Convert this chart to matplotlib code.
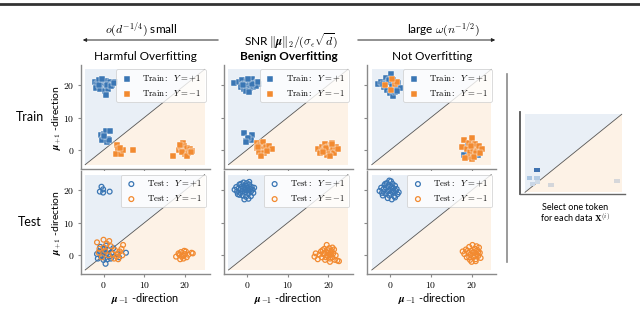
import matplotlib
matplotlib.use("Agg")
import matplotlib.pyplot as plt
from matplotlib.path import Path
from matplotlib.ticker import FuncFormatter

plt.rcParams['font.family'] = ['Lato', 'DejaVu Sans']
plt.rcParams['mathtext.fontset'] = 'cm'

# ---- data: (x, y) in mu_{-1} / mu_{+1} directions ----
harm_train_pos = [(-2.0, 21.0), (-1.5, 20.3), (-1.0, 21.5), (-0.5, 19.8), (0.0, 20.6), (0.5, 21.2),
                  (1.0, 19.5), (1.5, 20.8), (2.2, 20.1), (2.8, 21.0), (-1.8, 19.2), (-0.8, 18.7),
                  (0.3, 18.2), (1.2, 18.8), (0.5, 16.8), (-1.2, 20.0), (0.8, 20.0), (1.8, 19.6),
                  (-0.3, 21.8), (2.5, 20.5),
                  (-0.5, 4.5), (0.0, 5.0), (0.5, 6.0), (1.5, 5.8), (0.2, 3.8), (1.0, 3.5),
                  (-0.3, 3.0), (0.8, 2.6), (1.4, 3.2), (0.0, 4.2)]
harm_train_neg = [(3.3, 1.5), (3.5, 0.2), (3.1, -1.2), (4.2, -1.2), (4.8, 0.1), (7.2, 0.1), (4.0, 0.5),
                  (17.0, -1.8), (18.5, 0.0), (19.0, 0.8), (19.5, 2.2), (19.8, 1.2), (20.2, -0.2),
                  (20.5, 0.5), (20.0, -1.2), (20.8, -0.8), (21.2, 0.3), (21.8, -0.2), (19.3, -0.5),
                  (18.8, 1.5), (20.6, -1.8), (21.5, -0.5)]

benign_train_pos = [(-3.1, 20.5), (-1.8, 20.8), (-1.2, 21.6), (-0.6, 20.2), (0.0, 21.2), (0.6, 20.6),
                    (1.2, 21.8), (1.8, 20.4), (2.5, 21.0), (3.0, 20.2), (-1.5, 19.4), (-0.8, 18.8),
                    (0.2, 19.6), (0.9, 19.0), (1.6, 19.3), (2.2, 19.8), (-0.2, 18.2), (0.5, 18.0),
                    (1.3, 20.2), (-1.0, 20.0), (2.8, 20.8), (0.3, 22.0),
                    (-0.7, 5.1), (1.2, 4.6), (-0.1, 2.8), (1.1, 3.1), (0.4, 3.6), (-0.3, 2.4)]
benign_train_neg = [(2.4, 2.3), (3.2, 1.6), (4.0, 2.6), (2.6, 0.6), (3.6, 0.2), (4.6, 0.9), (5.4, 1.2),
                    (6.2, 0.4), (3.0, -0.6), (4.2, -0.8), (3.4, -1.9), (5.0, -0.2), (2.8, 1.0),
                    (17.4, 0.2), (18.0, -1.0), (18.4, 1.0), (19.0, 0.0), (19.2, 1.8), (19.6, -1.5),
                    (20.0, 0.8), (20.2, -0.4), (20.6, 1.4), (20.8, 2.2), (21.2, 0.2), (21.4, -1.0),
                    (21.8, 1.0), (22.4, 0.4), (19.4, 0.6), (20.4, -1.8), (18.8, -0.6), (21.0, 1.8)]

not_train_pos = [(-3.0, 20.2), (-2.2, 21.0), (-1.6, 19.4), (-1.0, 22.2), (-0.4, 20.8), (0.2, 23.4),
                 (0.8, 21.6), (1.4, 19.8), (2.0, 20.6), (2.5, 19.0), (-0.8, 18.4), (0.0, 17.4),
                 (0.6, 16.6), (1.2, 17.8), (-1.8, 20.4), (0.4, 19.6), (1.8, 18.2), (-0.2, 21.4),
                 (19.0, 1.5), (20.2, 1.0), (18.2, -1.5), (21.5, -1.5)]
not_train_neg = [(-1.2, 20.0), (0.2, 18.5), (1.2, 20.3), (1.8, 21.0), (0.4, 22.0),
                 (17.6, 1.0), (18.2, 3.0), (18.8, 0.2), (19.4, 2.2), (19.6, -0.6), (20.2, 3.6),
                 (20.4, 0.4), (20.8, 1.8), (21.2, -0.2), (21.8, 1.2), (22.6, 0.4), (19.0, -2.0),
                 (20.0, -2.8), (21.0, -1.0), (18.4, -2.4), (20.6, -2.0), (19.8, 1.2), (22.0, -0.8)]

harm_test_pos = [(-0.5, 21.1), (-0.1, 20.3), (-0.9, 19.6), (-0.1, 19.3), (1.5, 19.6),
                 (-1.6, 0.4), (-1.0, 1.2), (-0.6, -0.4), (-0.2, 0.8), (0.2, 2.0), (0.4, -0.8),
                 (0.8, 0.6), (1.2, 1.6), (1.6, -0.2), (2.0, 0.8), (-0.8, 2.6), (0.0, -1.4),
                 (1.0, -1.2), (2.4, 2.2), (-1.4, -1.0), (0.6, 3.0), (1.8, -1.0), (5.5, 0.8),
                 (0.5, -2.6), (3.4, 0.4), (3.8, -0.6), (-0.4, 0.0), (0.2, 1.0)]
harm_test_neg = [(-1.6, 4.0), (0.0, 4.8), (1.4, 4.4), (0.8, 3.6), (-1.0, 2.0), (0.4, 1.4), (1.8, 2.8),
                 (2.2, 0.4), (2.8, 1.6), (3.2, -0.4), (3.6, -1.2), (4.0, 1.2), (4.4, 2.0), (4.6, 0.0),
                 (1.2, 0.0), (-0.4, -0.6), (2.6, -1.0), (-1.2, 0.8), (3.6, 0.6), (0.0, 2.4), (4.8, 3.2),
                 (17.8, -0.4), (18.4, 0.6), (18.8, -1.2), (19.0, 1.0), (19.4, 0.0), (19.8, 1.4),
                 (19.6, -1.0), (20.0, 0.4), (20.4, -0.6), (20.2, 1.2), (20.8, 0.2), (19.2, -0.4),
                 (21.6, 0.8), (21.9, 0.6), (18.6, 0.2)]

benign_test_pos = [(-3.0, 20.2), (-2.6, 21.0), (-2.4, 19.6), (-2.0, 20.6), (-1.8, 21.8), (-1.6, 19.2),
                   (-1.4, 20.4), (-1.2, 21.2), (-1.0, 19.8), (-0.8, 22.4), (-0.6, 20.8), (-0.4, 19.4),
                   (-0.2, 21.4), (0.0, 20.0), (0.2, 20.8), (0.4, 19.0), (0.6, 21.8), (0.8, 20.4),
                   (1.0, 19.6), (1.2, 21.0), (1.4, 20.2), (1.6, 19.2), (1.8, 20.8), (-1.8, 18.6),
                   (-1.0, 18.4), (-0.2, 18.0), (0.4, 17.4), (-0.6, 17.2), (1.0, 18.2), (-2.2, 18.8),
                   (0.0, 22.2), (-1.4, 22.0), (0.6, 22.6), (-0.4, 20.2), (0.4, 20.0)]
benign_test_neg = [(16.6, -0.4), (16.9, 0.6), (17.4, -1.2), (17.8, 0.2), (18.2, 1.2), (18.4, -0.6),
                   (18.8, 0.4), (19.0, 2.0), (19.2, -1.4), (19.4, 1.0), (19.6, 3.2), (19.8, -0.2),
                   (20.0, 0.8), (20.2, 2.2), (20.4, -1.0), (20.6, 0.2), (20.8, 1.4), (21.0, -0.6),
                   (21.2, 0.6), (21.4, 1.8), (21.6, -1.4), (21.8, 0.0), (22.2, -1.6), (22.6, -1.8),
                   (19.4, -0.6), (20.2, 0.0), (19.0, 0.6), (20.6, 1.0), (18.6, 1.6), (21.0, 2.4),
                   (19.8, 1.6), (20.4, -2.0)]

not_test_pos = [(-2.6, 19.8), (-2.2, 20.8), (-2.0, 19.2), (-1.6, 20.4), (-1.4, 21.6), (-1.2, 19.0),
                (-1.0, 20.8), (-0.8, 22.2), (-0.6, 19.6), (-0.4, 21.2), (-0.2, 18.4), (0.0, 20.2),
                (0.2, 22.8), (0.4, 21.0), (0.6, 19.4), (0.8, 20.6), (1.0, 18.2), (1.2, 21.4),
                (1.4, 19.8), (1.6, 20.4), (1.8, 18.8), (2.1, 19.4), (-1.8, 18.4), (-0.6, 17.6),
                (0.4, 17.2), (1.2, 17.8), (-0.2, 23.0), (0.6, 22.0), (-1.2, 22.0), (0.0, 19.0),
                (-0.4, 20.0), (0.8, 19.8)]
not_test_neg = [(17.8, 1.2), (18.2, 0.4), (18.6, 1.8), (18.8, -0.6), (19.2, 0.8), (19.4, 2.6),
                (19.6, -1.4), (19.8, 0.2), (20.0, 1.4), (20.2, 3.2), (20.4, -0.4), (20.6, 0.8),
                (20.8, 2.0), (21.0, -1.2), (21.2, 0.4), (21.4, 1.6), (21.6, -0.2), (21.8, 2.4),
                (22.0, 0.8), (22.2, -0.8), (20.0, -2.0), (21.0, -1.8), (19.4, -0.6), (20.4, 1.0),
                (21.2, 2.8), (19.0, 1.4), (20.8, -0.2), (21.6, 1.0)]

col_titles = ["Harmful Overfitting", "Benign Overfitting", "Not Overfitting"]
row_names = ["Train", "Test"]
ticks = [0, 10, 20]

# token sketch on the right (unit square coordinates)
token_x = [0.124, 0.044, 0.121, 0.075, 0.131, 0.266, 0.954]
token_y = [0.286, 0.179, 0.187, 0.103, 0.128, 0.094, 0.145]
token_c = ['#3f72b0', '#a9c5e2', '#b3cbe4', '#c9d6e6', '#cfdae6', '#d4d6da', '#d6d7da']

panels = [[(harm_train_pos, harm_train_neg), (benign_train_pos, benign_train_neg), (not_train_pos, not_train_neg)],
          [(harm_test_pos, harm_test_neg), (benign_test_pos, benign_test_neg), (not_test_pos, not_test_neg)]]

BLUE = '#3a76b4'
ORANGE = '#f28a30'
W, H = 640, 316
fig = plt.figure(figsize=(6.4, 3.16), dpi=100)


def fx(x):
    return x / W


def fy(y):
    return 1 - y / H


def add_px_axes(left, top, w, h):
    return fig.add_axes([left / W, 1 - (top + h) / H, w / W, h / H])


col_left = [80.7, 224.0, 367.3]
row_top = [65.5, 170.8]
aw, ah = 128.8, 103.4
lo, hi = -4.5, 24.8
fmt = FuncFormatter(lambda v, p: f"${int(v)}$")

for r in range(2):
    for c in range(3):
        ax = add_px_axes(col_left[c], row_top[r], aw, ah)
        ax.fill([lo, lo, hi], [lo, hi, hi], color='#e9eff6', lw=0, zorder=0)
        ax.fill([lo, hi, hi], [lo, lo, hi], color='#fdf2e6', lw=0, zorder=0)
        ax.plot([lo, hi], [lo, hi], color='#555555', lw=0.6, zorder=1)
        pos, neg = panels[r][c]
        px, py = zip(*pos)
        nx, ny = zip(*neg)
        if r == 0:
            ax.scatter(px, py, s=13, marker='s', color=BLUE, edgecolor='white', linewidth=0.3,
                       zorder=3, label=r"$\mathrm{Train}{:}\ \ Y=+1$")
            ax.scatter(nx, ny, s=13, marker='s', color=ORANGE, edgecolor='white', linewidth=0.3,
                       zorder=3, label=r"$\mathrm{Train}{:}\ \ Y=-1$")
        else:
            ax.scatter(px, py, s=12, marker='o', facecolor='none', edgecolor=BLUE, linewidth=0.9,
                       zorder=3, label=r"$\mathrm{Test}{:}\ \ Y=+1$")
            ax.scatter(nx, ny, s=12, marker='o', facecolor='none', edgecolor=ORANGE, linewidth=0.9,
                       zorder=3, label=r"$\mathrm{Test}{:}\ \ Y=-1$")
        ax.set_xlim(-5.6, 26)
        ax.set_ylim(-5.8, 26)
        for s in ['top', 'right']:
            ax.spines[s].set_visible(False)
        for s in ['left', 'bottom']:
            ax.spines[s].set_color('#8a8a8a')
            ax.spines[s].set_linewidth(1.0)
        ax.set_xticks(ticks)
        ax.set_yticks(ticks)
        ax.xaxis.set_major_formatter(fmt)
        ax.yaxis.set_major_formatter(fmt)
        ax.tick_params(length=2.5, width=0.8, color='#8a8a8a', labelsize=7, pad=2)
        if r == 0:
            ax.tick_params(labelbottom=False)
        if c > 0:
            ax.tick_params(labelleft=False)
        leg = ax.legend(loc='upper right', fontsize=6.3, framealpha=0.8, borderpad=0.45,
                        handlelength=1.5, handletextpad=1.0, labelspacing=0.5, borderaxespad=0.45)
        leg.get_frame().set_linewidth(0.6)

# column titles, row names, axis labels
for c in range(3):
    xc = col_left[c] + aw / 2
    fig.text(fx(xc), fy(57), col_titles[c], ha='center', va='center', fontsize=8.5,
             fontweight='bold' if c == 1 else 'normal')
    fig.text(fx(xc), fy(298), r"$\boldsymbol{\mu}_{-1}$ -direction", ha='center', va='center', fontsize=7.8)

for r in range(2):
    yc = row_top[r] + ah / 2
    fig.text(fx(30), fy(yc), row_names[r], ha='center', va='center', fontsize=9)
    fig.text(fx(57), fy(yc), r"$\boldsymbol{\mu}_{+1}$ -direction", ha='center', va='center',
             rotation=90, fontsize=7.5)

# header with SNR arrows
fig.text(fx(291), fy(41), r"SNR $\|\boldsymbol{\mu}\|_2/(\sigma_\epsilon\sqrt{d})$", ha='center',
         va='center', fontsize=8.5)
fig.text(fx(141), fy(30), r"$o(d^{-1/4})$ small", ha='center', va='center', fontsize=8.5)
fig.text(fx(443), fy(30), r"large $\omega(n^{-1/2})$", ha='center', va='center', fontsize=8.5)
fig.add_artist(matplotlib.patches.FancyArrowPatch((fx(221), fy(40)), (fx(80), fy(40)),
               transform=fig.transFigure, arrowstyle='-|>', mutation_scale=5, lw=0.7, color='#222222'))
fig.add_artist(matplotlib.patches.FancyArrowPatch((fx(355), fy(40)), (fx(498), fy(40)),
               transform=fig.transFigure, arrowstyle='-|>', mutation_scale=5, lw=0.7, color='#222222'))

# dark rule at the very top
fig.add_artist(matplotlib.lines.Line2D([0, 1], [fy(4), fy(4)], transform=fig.transFigure,
               color='#333333', lw=2.0))

# separator and token sketch
fig.add_artist(matplotlib.lines.Line2D([fx(507), fx(507)], [fy(74), fy(262)], transform=fig.transFigure,
               color='#8a8a8a', lw=1.2))
ins = add_px_axes(520, 111.7, 105, 82.6)
ins.fill([0, 0, 1], [0, 1, 1], color='#e9eff6', lw=0, zorder=0)
ins.fill([0, 1, 1], [0, 0, 1], color='#fdf2e6', lw=0, zorder=0)
ins.plot([0, 1], [0, 1], color='#555555', lw=0.6, zorder=1)
token = Path([(-1.5, -1), (1.5, -1), (1.5, 1), (-1.5, 1), (-1.5, -1)])
ins.scatter(token_x, token_y, s=16, marker=token, c=token_c, linewidth=0, zorder=3)
ins.set_xlim(-0.052, 1.034)
ins.set_ylim(-0.026, 1.033)
ins.set_xticks([])
ins.set_yticks([])
for s in ['top', 'right']:
    ins.spines[s].set_visible(False)
ins.spines['left'].set_color('#555555')
ins.spines['left'].set_linewidth(1.3)
ins.spines['bottom'].set_color('#666666')
ins.spines['bottom'].set_linewidth(1.0)
fig.text(fx(575), fy(207), "Select one token", ha='center', va='center', fontsize=6.5)
fig.text(fx(575), fy(218), r"for each data $\mathbf{X}^{(i)}$", ha='center', va='center', fontsize=6.5)

fig.savefig("out.png", dpi=100)
